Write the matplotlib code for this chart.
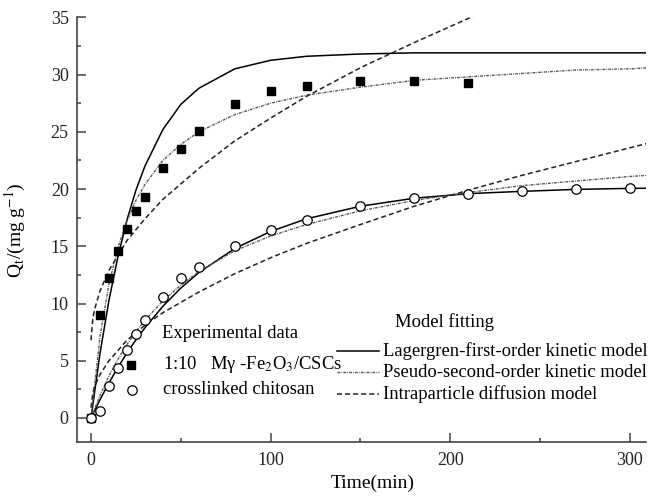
import matplotlib
matplotlib.use("Agg")
import matplotlib.pyplot as plt

plt.rcParams['font.family'] = ['Liberation Serif', 'DejaVu Serif']
plt.rcParams['mathtext.fontset'] = 'stix'
plt.rcParams['lines.scale_dashes'] = False

t_sq = [0, 5, 10, 15, 20, 25, 30, 40, 50, 60, 80, 100, 120, 150, 180, 210]
q_sq = [0, 9.0, 12.2, 14.6, 16.5, 18.1, 19.3, 21.8, 23.5, 25.1, 27.4, 28.6, 29.0, 29.4, 29.4, 29.3]

t_ci = [0, 5, 10, 15, 20, 25, 30, 40, 50, 60, 80, 100, 120, 150, 180, 210, 240, 270, 300]
q_ci = [0, 0.6, 2.8, 4.4, 5.9, 7.3, 8.6, 10.6, 12.2, 13.2, 15.0, 16.4, 17.3, 18.5, 19.2, 19.6, 19.8, 20.0, 20.1]

# fitted model curves
t_fit = [0, 5, 10, 15, 20, 25, 30, 40, 50, 60, 80, 100, 120, 150, 180, 210, 240, 270, 300, 310]
lag_sq = [0, 5.65, 10.3, 14.1, 17.3, 19.9, 22.0, 25.2, 27.4, 28.8, 30.5, 31.25, 31.6, 31.8, 31.9, 31.9, 31.9, 31.9, 31.9, 31.9]
pso_sq = [0, 7.15, 11.7, 14.9, 17.2, 19.0, 20.4, 22.5, 23.9, 25.0, 26.5, 27.5, 28.2, 28.9, 29.5, 29.8, 30.1, 30.4, 30.5, 30.6]
lag_ci = [0, 1.6, 3.07, 4.43, 5.68, 6.83, 7.88, 9.76, 11.35, 12.7, 14.8, 16.3, 17.4, 18.5, 19.2, 19.6, 19.8, 19.97, 20.06, 20.07]
pso_ci = [0, 1.98, 3.68, 5.14, 6.42, 7.54, 8.54, 10.23, 11.6, 12.8, 14.6, 15.9, 16.9, 18.1, 19.0, 19.7, 20.3, 20.7, 21.1, 21.2]

t_ipd = [0, 1, 2, 5, 10, 20, 30, 40, 60, 80, 100, 120, 150, 180, 210, 240, 270, 310]
ipd_sq = [6.8, 8.7, 9.5, 11.1, 12.9, 15.5, 17.4, 19.1, 21.8, 24.2, 26.2, 28.1, 30.6, 32.8, 34.9, 36.9, 38.7, 41.0]
ipd_ci = [0.9, 2.2, 2.75, 3.8, 5.0, 6.8, 8.1, 9.2, 11.0, 12.6, 14.0, 15.25, 16.9, 18.5, 19.9, 21.2, 22.4, 24.0]

fig = plt.figure(figsize=(6.6, 4.99), dpi=100)
ax = fig.add_axes([0.1167, 0.1142, 0.862, 0.851])

solid = dict(color='black', lw=1.1, ls='-')
psostyle = dict(color='#555555', lw=1.0, ls=(0, (2, 0.8, 0.6, 0.8)))
dash = dict(color='#222222', lw=1.1, ls=(0, (3.6, 2.2)))

ax.plot(t_fit, lag_sq, **solid)
ax.plot(t_fit, pso_sq, **psostyle)
ax.plot(t_ipd, ipd_sq, **dash)
ax.plot(t_fit, lag_ci, **solid)
ax.plot(t_fit, pso_ci, **psostyle)
ax.plot(t_ipd, ipd_ci, **dash)

ax.plot(t_sq, q_sq, 's', color='black', ms=6.3, ls='none')
ax.plot(t_ci, q_ci, 'o', mfc='white', mec='black', mew=0.9, ms=6.8, ls='none')

ax.set_xlim(-7.8, 309)
ax.set_ylim(-2.1, 35)
ax.set_xticks([0, 100, 200, 300])
ax.set_xticks([50, 150, 250], minor=True)
ax.set_yticks(range(0, 36, 5))
ax.set_yticks([2.5 + 5 * i for i in range(7)], minor=True)

for s in ['top', 'right']:
    ax.spines[s].set_visible(False)
for s in ['left', 'bottom']:
    ax.spines[s].set_color('#444444')
    ax.spines[s].set_linewidth(1.2)

ax.tick_params(which='both', direction='in', color='#444444', width=1.1, labelsize=13, labelcolor='#222222')
ax.tick_params(which='major', length=6.5)
ax.tick_params(which='minor', length=3)
ax.tick_params(axis='y', pad=6)
ax.tick_params(axis='x', pad=7)

ax.set_xlabel('Time(min)', fontsize=14)
ax.xaxis.set_label_coords(0.52, -0.078)
ax.set_ylabel(r'Q$_\mathrm{t}$/(mg g$^{\mathrm{-1}}$)', fontsize=14)
ax.yaxis.set_label_coords(-0.086, 0.5)

# hand placed legend
fs = 13.4
tr = ax.transAxes
ax.text(0.149, 0.256, 'Experimental data', transform=tr, fontsize=fs, va='center')
ax.plot([0.0944], [0.1814], 's', color='black', ms=6.3, transform=tr, clip_on=False)
ax.text(0.151, 0.1814, r'1:10   Mγ -Fe$_2$O$_3$/CSCs', transform=tr, fontsize=fs, va='center')
ax.plot([0.0961], [0.1225], 'o', mfc='white', mec='black', mew=0.9, ms=6.8, transform=tr, clip_on=False)
ax.text(0.151, 0.1225, 'crosslinked chitosan', transform=tr, fontsize=fs, va='center')

ax.text(0.559, 0.2834, 'Model fitting', transform=tr, fontsize=fs, va='center')
labels = ['Lagergren-first-order kinetic model', 'Pseudo-second-order kinetic model', 'Intraparticle diffusion model']
styles = [solid, psostyle, dash]
rows = [0.2151, 0.1642, 0.1124]
for lab, st, y in zip(labels, styles, rows):
    ax.plot([0.4575, 0.5307], [y, y], transform=tr, **st)
    ax.text(0.5373, y, lab, transform=tr, fontsize=fs, va='center')

fig.savefig('out.png', dpi=100)
